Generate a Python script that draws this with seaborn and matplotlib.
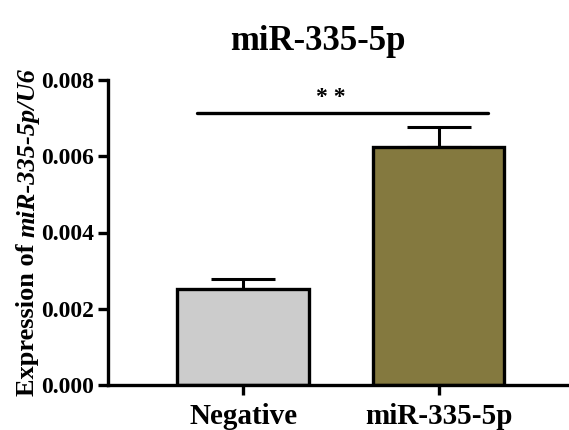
import matplotlib
matplotlib.use("Agg")
import matplotlib.pyplot as plt
import seaborn as sns
import pandas as pd

categories = ["Negative", "miR-335-5p"]
means = [0.00252, 0.00625]
errors = [0.00026, 0.00052]
colors = ["#cccccc", "#84793f"]
yticks = [0.000, 0.002, 0.004, 0.006, 0.008]
ytick_labels = ["0.000", "0.002", "0.004", "0.006", "0.008"]
sig_label = "* *"
sig_level = 0.00714
title = "miR-335-5p"
ylabel_plain = "Expression of "
ylabel_italic = "miR-335-5p/U6"

sns.set_style("ticks", {"axes.edgecolor": "black", "text.color": "black",
                        "xtick.color": "black", "ytick.color": "black",
                        "axes.labelcolor": "black"})
plt.rcParams["font.family"] = ["Liberation Serif", "DejaVu Serif"]
plt.rcParams["font.weight"] = "bold"

df = pd.DataFrame({"group": categories, "value": means})

fig = plt.figure(figsize=(5.69, 4.30), dpi=100)
ax = fig.add_axes([108 / 569, 45 / 430, (568 - 108) / 569, (385 - 80) / 430])

sns.barplot(data=df, x="group", y="value", hue="group", palette=colors,
            order=categories, hue_order=categories, legend=False,
            width=0.67, edgecolor="black", linewidth=2.4, ax=ax, errorbar=None,
            saturation=1)

xs = list(range(len(categories)))
ax.errorbar(xs, means, yerr=[[0] * len(errors), errors], fmt="none",
            ecolor="black", elinewidth=2.2, capsize=23, capthick=2.2, zorder=1)
for p in ax.patches:
    p.set_zorder(2)

ax.set_xlim(-0.69, 1.66)
ax.set_ylim(0, 0.008)
ax.set_yticks(yticks)
ax.set_yticklabels(ytick_labels, fontsize=17, fontweight="bold")
ax.set_xticks(xs)
ax.set_xticklabels(categories, fontsize=21, fontweight="bold")
ax.set_xlabel("")
ax.set_ylabel("")

for s in ["left", "bottom"]:
    ax.spines[s].set_linewidth(2.4)
sns.despine(ax=ax)
ax.tick_params(axis="both", width=2.4, length=7, color="black", pad=3)
ax.tick_params(axis="x", pad=6)

# y label in two styles
renderer = fig.canvas.get_renderer()
lx = 34 / 569
t1 = fig.text(lx, 0, ylabel_plain, rotation=90, rotation_mode="anchor",
              ha="left", va="baseline", fontsize=19, fontweight="bold")
t2 = fig.text(lx, 0, ylabel_italic, rotation=90, rotation_mode="anchor",
              ha="left", va="baseline", fontsize=19, fontweight="bold",
              fontstyle="italic")
h1 = t1.get_window_extent(renderer).height
h2 = t2.get_window_extent(renderer).height
H = fig.bbox.height
center = (430 - 232) / 430 * H
y0 = center - (h1 + h2) / 2
t1.set_y(y0 / H)
t2.set_y((y0 + h1) / H)

# significance bar
ax.plot([-0.235, 1.25], [sig_level, sig_level], color="black", lw=2.4,
        clip_on=False)
ax.text(0.45, sig_level + 0.00013, sig_label, ha="center", va="bottom",
        fontsize=17, fontweight="bold")

fig.text(318 / 569, 1 - 42 / 430, title, ha="center", va="center",
         fontsize=25, fontweight="bold")

fig.savefig("out.png", dpi=100)
